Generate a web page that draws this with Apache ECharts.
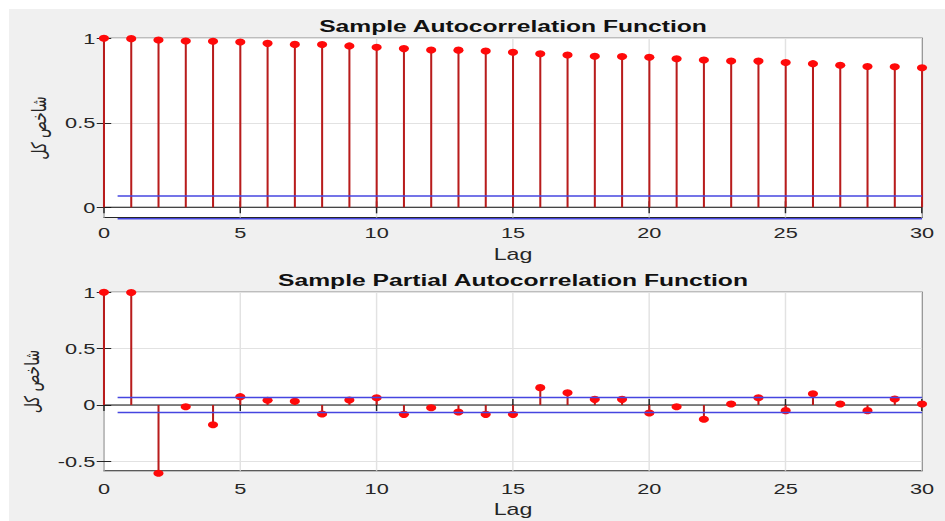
<!DOCTYPE html>
<html>
<head>
<meta charset="utf-8">
<script src="https://cdn.jsdelivr.net/npm/echarts@6/dist/echarts.min.js"></script>
<style>
  html, body { margin: 0; background: #fff; overflow: hidden; }
  /* the source picture is stretched sideways, so the chart is too */
  #main {
    position: absolute; left: 9px; top: 9px;
    width: 646px; height: 512px;
    transform: scaleX(1.45); transform-origin: 0 0;
  }
</style>
</head>
<body>
<div id="main"></div>
<script>
const lags = [0, 1, 2, 3, 4, 5, 6, 7, 8, 9, 10, 11, 12, 13, 14, 15, 16, 17, 18, 19, 20,
  21, 22, 23, 24, 25, 26, 27, 28, 29, 30];
const acfValues = [1.0, 0.998, 0.99, 0.984, 0.983, 0.978, 0.970, 0.964, 0.963, 0.955, 0.947,
  0.939, 0.931, 0.930, 0.925, 0.917, 0.909, 0.901, 0.894, 0.892, 0.888,
  0.879, 0.872, 0.866, 0.865, 0.857, 0.850, 0.841, 0.833, 0.832, 0.826];
const pacfValues = [1.0, 0.998, -0.605, -0.015, -0.175, 0.074, 0.042, 0.033, -0.08, 0.044, 0.065,
  -0.083, -0.024, -0.062, -0.083, -0.083, 0.154, 0.109, 0.05, 0.05, -0.071,
  -0.015, -0.127, 0.009, 0.065, -0.05, 0.1, 0.009, -0.05, 0.053, 0.009];
const acfBounds = [0.067, -0.067];
const pacfBounds = [0.067, -0.067];
const boundLags = [0.5, 30];
const acfYTicks = [0, 0.5, 1];
const pacfYTicks = [-0.5, 0, 0.5, 1];
const titles = ['Sample Autocorrelation Function', 'Sample Partial Autocorrelation Function'];
const xName = 'Lag';
const yName = 'شاخص کل';

const chart = echarts.init(document.getElementById('main'), null, { renderer: 'svg' });

const ink = '#262626';
const gridColor = '#e2e2e2';
const stemColor = '#b81c1c';
const dotColor = '#ff0a0a';
const boundColor = '#4646e0';

const stemItem = (params, api) => {
    const base = api.coord([api.value(0), 0]);
    const tip = api.coord([api.value(0), api.value(1)]);
    return {
        type: 'group',
        children: [
            { type: 'line', shape: { x1: base[0], y1: base[1], x2: tip[0], y2: tip[1] },
              style: { stroke: stemColor, lineWidth: 1.4 } },
            { type: 'circle', shape: { cx: tip[0], cy: tip[1], r: 3.5 },
              style: { fill: dotColor } }
        ]
    };
};

const xAxes = (gridIndex, labelMargin, nameGap) => [
    {
        type: 'value', gridIndex, min: 0, max: 30, interval: 5,
        name: xName, nameLocation: 'middle', nameGap,
        nameTextStyle: { fontFamily: 'Liberation Sans', fontSize: 16, color: ink },
        axisLine: { show: false },
        axisTick: { inside: true, length: 6, lineStyle: { color: ink } },
        axisLabel: { margin: labelMargin, fontFamily: 'Liberation Sans', fontSize: 15, color: ink },
        splitLine: { show: true, lineStyle: { color: gridColor } }
    },
    {
        type: 'value', gridIndex, position: 'top', min: 0, max: 30, interval: 5,
        axisLine: { show: false },
        axisTick: { inside: true, length: 6, lineStyle: { color: ink } },
        axisLabel: { show: false },
        splitLine: { show: false }
    }
];

const yAxes = (gridIndex, min, ticks) => [
    {
        type: 'value', gridIndex, min, max: 1,
        name: yName, nameLocation: 'middle', nameRotate: 90, nameGap: 30,
        nameTextStyle: { fontFamily: 'DejaVu Sans', fontSize: 14, color: ink },
        axisLine: { show: false },
        axisTick: { inside: true, length: 5, customValues: ticks, lineStyle: { color: ink } },
        axisLabel: { margin: 6, customValues: ticks, fontFamily: 'Liberation Sans', fontSize: 15, color: ink },
        splitLine: { show: true, lineStyle: { color: gridColor } }
    },
    {
        type: 'value', gridIndex, position: 'right', min, max: 1,
        axisLine: { show: false },
        axisTick: { inside: true, length: 5, customValues: ticks, lineStyle: { color: ink } },
        axisLabel: { show: false },
        splitLine: { show: false }
    }
];

const plotSeries = (axisIndex, values, bounds) => [
    {
        type: 'line', xAxisIndex: axisIndex, yAxisIndex: axisIndex,
        data: [[0, 0], [30, 0]], symbol: 'none', silent: true, clip: false, z: 1,
        lineStyle: { color: '#111', width: 1 }
    },
    {
        type: 'custom', xAxisIndex: axisIndex, yAxisIndex: axisIndex,
        data: lags.map((lag, i) => [lag, values[i]]),
        renderItem: stemItem, clip: false, z: 2
    },
    ...bounds.map(b => ({
        type: 'line', xAxisIndex: axisIndex, yAxisIndex: axisIndex,
        data: boundLags.map(x => [x, b]), symbol: 'none', silent: true, clip: false, z: 3,
        lineStyle: { color: boundColor, width: 1.6 }
    }))
];

const plotCenter = (65.5 + (646 - 16.3)) / 2;

const option = {
    backgroundColor: '#f0f0f0',
    animation: false,
    title: [
        { text: titles[0], left: plotCenter, textAlign: 'center', top: 8, padding: 0,
          textStyle: { fontFamily: 'Liberation Sans', fontSize: 17, fontWeight: 'bold', color: '#111' } },
        { text: titles[1], left: plotCenter, textAlign: 'center', top: 262.5, padding: 0,
          textStyle: { fontFamily: 'Liberation Sans', fontSize: 17, fontWeight: 'bold', color: '#111' } }
    ],
    grid: [
        { left: 65.5, right: 16.3, top: 29.3, height: 179.2, show: true,
          backgroundColor: '#fff', borderColor: ink, borderWidth: 1, outerBoundsMode: 'none' },
        { left: 65.5, right: 16.3, top: 283.3, height: 178.4, show: true,
          backgroundColor: '#fff', borderColor: ink, borderWidth: 1, outerBoundsMode: 'none' }
    ],
    xAxis: [...xAxes(0, 8, 28.5), ...xAxes(1, 11, 31)],
    yAxis: [...yAxes(0, -0.06, acfYTicks), ...yAxes(1, -0.583, pacfYTicks)],
    series: [...plotSeries(0, acfValues, acfBounds), ...plotSeries(2, pacfValues, pacfBounds)]
};

option && chart.setOption(option);
</script>
</body>
</html>
